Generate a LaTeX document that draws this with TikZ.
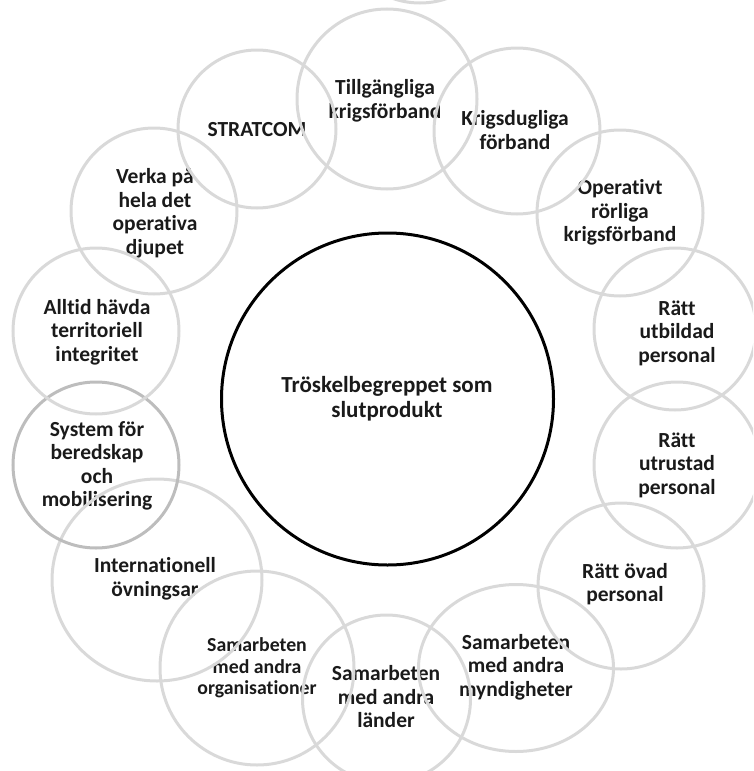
\documentclass[tikz,border=0pt]{standalone}
\usepackage{fontspec}
\setmainfont{Carlito}[Ligatures=NoCommon]
\usetikzlibrary{shapes.geometric}
\definecolor{ringgray}{HTML}{D9D9D9}
\definecolor{ringdark}{HTML}{BDBDBD}
\definecolor{txt}{HTML}{1A1A1A}
\begin{document}
\begin{tikzpicture}[x=1pt,y=-1pt,
  lbl/.style={align=center, font=\bfseries\fontsize{21.5}{23.5}\selectfont, inner sep=0pt, text=txt},
  lblsmall/.style={lbl, font=\bfseries\fontsize{19.8}{21.7}\selectfont},
  lblbig/.style={lbl, font=\bfseries\fontsize{23}{25}\selectfont},
  ring/.style={draw=ringgray, line width=3pt, circle, inner sep=0pt, minimum size=#1},
  ringdk/.style={draw=ringdark, line width=3pt, circle, inner sep=0pt, minimum size=#1},
  oval/.style={draw=ringgray, line width=3pt, ellipse, inner sep=0pt},
  core/.style={draw=black, line width=3pt, circle, inner sep=0pt, minimum size=#1}]
\path[use as bounding box] (0,0) rectangle (753,771);
\begin{scope}
\clip (0,0) rectangle (753,771);
% texts
\node[lblbig] (tcore) at (387,399) {Tröskelbegreppet som\\slutprodukt};
\node[lbl] (t1) at (385,101) {Tillgängliga\\krigsförband};
\node[lbl] (t2) at (257,130) {STRATCOM};
\node[lbl] (t3) at (515,130) {Krigsdugliga\\förband};
\node[lbl] (t4) at (620,212.5) {Operativt\\rörliga\\krigsförband};
\node[lbl] (t5) at (677,333) {Rätt\\utbildad\\personal};
\node[lbl] (t6) at (677,465) {Rätt\\utrustad\\personal};
\node[lbl] (t7) at (625,584) {Rätt övad\\personal};
\node[lbl] (t8) at (516,667) {Samarbeten\\med andra\\myndigheter};
\node[lbl] (t9) at (386,697) {Samarbeten\\med andra\\länder};
\node[lblsmall] (t10) at (257,668) {Samarbeten\\med andra\\organisationer};
\node[lbl] (t11) at (155,579) {Internationell\\övningsar};
\node[lbl] (t12) at (97,466) {System för\\beredskap\\och\\mobilisering};
\node[lbl] (t13) at (97,332) {Alltid hävda\\territoriell\\integritet};
\node[lbl] (t14) at (155,213) {Verka på\\hela det\\operativa\\djupet};
% rings
\node[ring=166pt] (c0) at (420,-80) {};
\node[ring=180pt] (c1) at (387,99) {};
\node[ring=158pt] (c2) at (257,129) {};
\node[ring=166pt] (c3) at (517,131) {};
\node[ring=166pt] (c4) at (620,213) {};
\node[ring=162pt] (c5) at (675,329) {};
\node[ring=166pt] (c6) at (677,465) {};
\node[ring=166pt] (c7) at (621,586) {};
\node[oval, minimum width=195pt, minimum height=167pt] (c8) at (516,668) {};
\node[ring=168pt] (c9) at (386.5,699) {};
\node[ring=194pt] (c10) at (257,668) {};
\node[oval, minimum width=210pt, minimum height=202pt] (c11) at (157,580) {};
\node[ringdk=166pt] (c12) at (96,465) {};
\node[ring=166pt] (c13) at (96,331) {};
\node[ring=166pt] (c14) at (154,211) {};
\node[core=332pt] (ccore) at (387.5,399) {};
\end{scope}
\end{tikzpicture}
\end{document}
